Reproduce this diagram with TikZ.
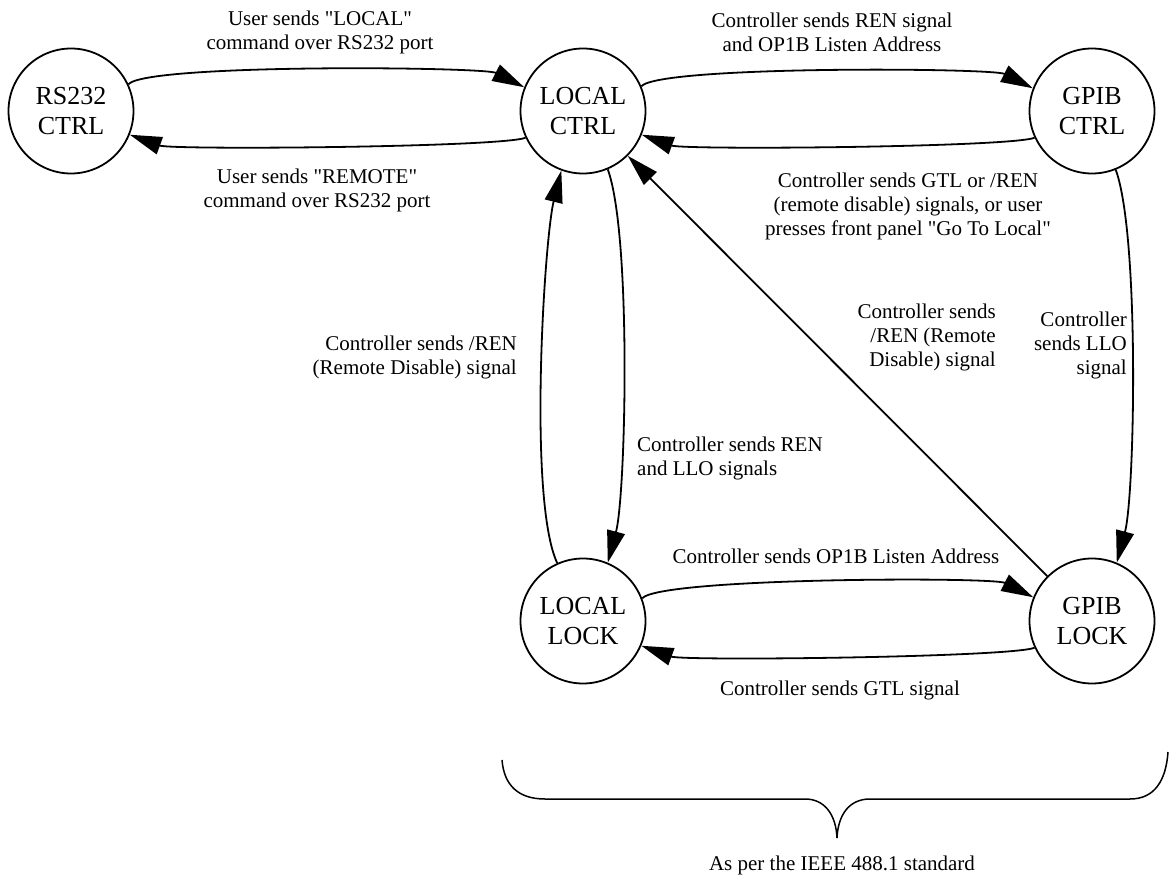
\documentclass[tikz,border=0pt]{standalone}
\usepackage{fontspec}
\setmainfont{Liberation Serif}[Ligatures=TeXOff]
\usetikzlibrary{arrows.meta}
\begin{document}
\begin{tikzpicture}[x=1pt,y=1pt,
  state/.style={circle,draw,line width=1.8pt,minimum size=125pt,inner sep=0pt,
    font=\fontsize{26}{30}\selectfont,align=center},
  lbl/.style={font=\fontsize{21}{24}\selectfont,inner sep=0pt},
  edge/.style={line width=1.8pt,-{Triangle[length=32pt,width=18pt]}},
  hz/.style={out distance=28pt,in distance=45pt}]
\useasboundingbox (0,0) rectangle (1170,-877);
% states
\node[state] (rs) at (71,-111) {RS232\\CTRL};
\node[state] (lc) at (583,-111) {LOCAL\\CTRL};
\node[state] (gc) at (1092,-111) {GPIB\\CTRL};
\node[state] (ll) at (583,-621) {LOCAL\\LOCK};
\node[state] (gl) at (1092,-621) {GPIB\\LOCK};
% connectors
\draw[edge] (rs.25) to[out=48,in=153,hz] (lc.158);
\draw[edge] (lc.205) to[out=200,in=340,hz] (rs.338);
\draw[edge] (lc.23) to[out=48,in=153,hz] (gc.159);
\draw[edge] (gc.205) to[out=200,in=340,hz] (lc.338);
\draw[edge] (lc.293) to[out=-70,in=75,out distance=70pt,in distance=70pt] (ll.67);
\draw[edge] (ll.114) to[out=115,in=256,out distance=70pt,in distance=70pt] (lc.250);
\draw[edge] (gc.292) to[out=-70,in=75,out distance=70pt,in distance=70pt] (gl.67);
\draw[edge] (gl) -- (lc);
\draw[edge] (ll.21) to[out=48,in=153,hz] (gl.158);
\draw[edge] (gl.205) to[out=200,in=340,hz] (ll.337);
% labels
\node[lbl,align=center] (l1) at (320,-32) {User sends "LOCAL"\\command over RS232 port};
\node[lbl,align=center] (l2) at (317,-190) {User sends "REMOTE"\\command over RS232 port};
\node[lbl,align=center] (l3) at (832,-32) {Controller sends REN signal\\and OP1B Listen Address};
\node[lbl,align=center] (l4) at (908,-206) {Controller sends GTL or /REN\\(remote disable) signals, or user\\presses front panel "Go To Local"};
\node[lbl,align=right,anchor=east] (l5) at (517,-357) {Controller sends /REN\\(Remote Disable) signal};
\node[lbl,align=left,anchor=west] (l6) at (637,-458) {Controller sends REN\\and LLO signals};
\node[lbl,align=right,anchor=east] (l7) at (996,-337) {Controller sends\\/REN (Remote\\Disable) signal};
\node[lbl,align=right,anchor=east] (l8) at (1127,-345) {Controller\\sends LLO\\signal};
\node[lbl] (l9) at (836,-556) {Controller sends OP1B Listen Address};
\node[lbl] (l10) at (840,-690) {Controller sends GTL signal};
% brace
\draw[line width=1.5pt] (502,-760) .. controls (504,-785) and (518,-799) .. (545,-799)
  -- (805,-799) .. controls (825,-799) and (836,-815) .. (837,-838)
  .. controls (838,-815) and (849,-799) .. (870,-799)
  -- (1130,-799) .. controls (1155,-799) and (1166,-780) .. (1168,-752);
\node[lbl] (l11) at (842,-865) {As per the IEEE 488.1 standard};
\end{tikzpicture}
\end{document}
